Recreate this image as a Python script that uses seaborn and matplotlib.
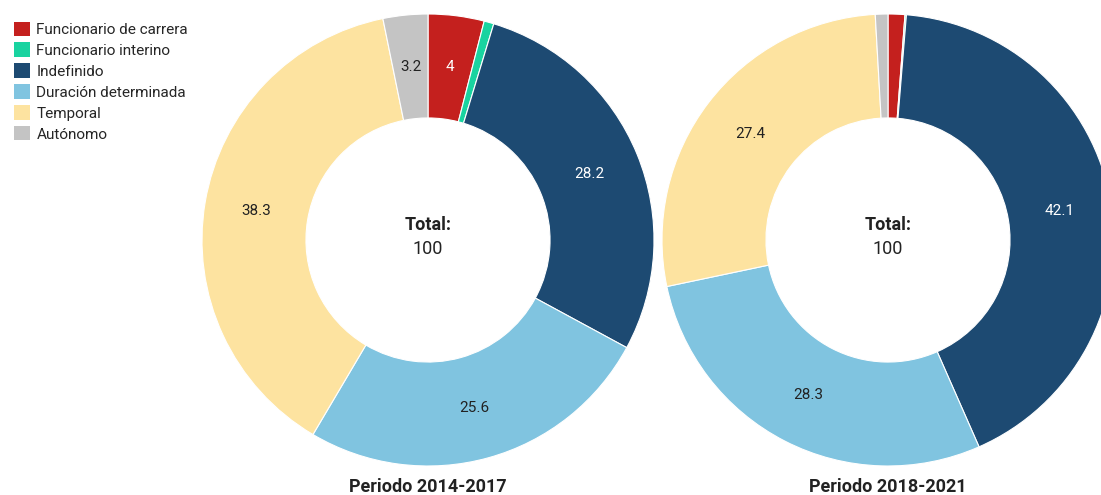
import matplotlib
matplotlib.use('Agg')
import matplotlib.pyplot as plt
import matplotlib.patches as mpatches
import numpy as np
import seaborn as sns

categories = ['Funcionario de carrera', 'Funcionario interino', 'Indefinido',
              'Duración determinada', 'Temporal', 'Autónomo']
periodo_2014_2017 = [4.0, 0.7, 28.2, 25.6, 38.3, 3.2]
periodo_2018_2021 = [1.2, 0.1, 42.1, 28.3, 27.4, 0.9]
periods = ['Periodo 2014-2017', 'Periodo 2018-2021']

colors = ['#C4201E', '#19D3A0', '#1D4A72', '#80C4E0', '#FDE3A0', '#C4C4C4']
dark = ['#C4201E', '#1D4A72']

sns.set_theme(style='white')
plt.rcParams['font.family'] = ['Roboto', 'DejaVu Sans']

fig = plt.figure(figsize=(11.01, 4.95), dpi=100)

# axes placed so each donut has ~226px radius
positions = [(202, 14), (662, 14)]
size = 452
for (px, py), vals, title in zip(positions, [periodo_2014_2017, periodo_2018_2021], periods):
    ax = fig.add_axes([px / 1101, (495 - py - size) / 495, size / 1101, size / 495])
    wedges, _ = ax.pie(vals, colors=colors, startangle=90, counterclock=False,
                       radius=1.0, wedgeprops=dict(width=0.46, edgecolor='white', linewidth=0.8))
    total = sum(vals)
    ang0 = 0.0
    for v, c in zip(vals, colors):
        mid = ang0 + v / 2
        ang0 += v
        if v < 2:
            continue
        theta = np.deg2rad(90 - mid / total * 360)
        r = 0.77
        lbl = f'{v:g}'
        ax.text(r * np.cos(theta), r * np.sin(theta), lbl, ha='center', va='center',
                fontsize=11, color='white' if c in dark else '#222222')
    ax.text(0, 0.065, 'Total:', ha='center', va='center', fontsize=13, fontweight='bold', color='#222222')
    ax.text(0, -0.04, f'{round(total):d}', ha='center', va='center', fontsize=13, color='#222222')
    ax.set_xlim(-1, 1)
    ax.set_ylim(-1, 1)
    ax.set_aspect('equal')
    fig.text((px + size / 2) / 1101, 1 - 487 / 495, title, ha='center', va='center',
             fontsize=13, fontweight='bold', color='#222222')

handles = [mpatches.Patch(facecolor=c, edgecolor='none', label=l) for c, l in zip(colors, categories)]
fig.legend(handles=handles, loc='upper left', bbox_to_anchor=(0.004, 0.975), frameon=False,
           fontsize=11, handlelength=1.05, handleheight=1.05, handletextpad=0.45,
           labelspacing=0.37, borderaxespad=0.2)

fig.savefig('out.png', dpi=100)
